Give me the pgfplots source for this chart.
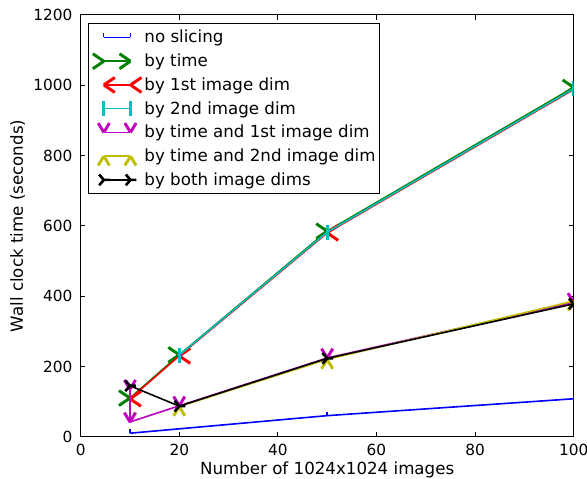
\documentclass[border=0pt]{standalone}
\usepackage{fontspec}
\setmainfont{DejaVu Sans}
\usepackage{pgfplots}
\pgfplotsset{compat=1.18}
\definecolor{mg}{rgb}{0,0.5,0}
\definecolor{mc}{rgb}{0,0.75,0.75}
\definecolor{mm}{rgb}{0.75,0,0.75}
\definecolor{my}{rgb}{0.75,0.75,0}
\pgfdeclareplotmark{chevR}{%
  \pgfpathmoveto{\pgfpointorigin}\pgfpathlineto{\pgfpoint{-8.25pt}{5.6pt}}%
  \pgfpathmoveto{\pgfpointorigin}\pgfpathlineto{\pgfpoint{-8.25pt}{-5.6pt}}%
  \pgfusepathqstroke}
\pgfdeclareplotmark{chevL}{%
  \pgfpathmoveto{\pgfpointorigin}\pgfpathlineto{\pgfpoint{8.25pt}{5.6pt}}%
  \pgfpathmoveto{\pgfpointorigin}\pgfpathlineto{\pgfpoint{8.25pt}{-5.6pt}}%
  \pgfusepathqstroke}
\pgfdeclareplotmark{vbar}{%
  \pgfpathmoveto{\pgfpoint{0pt}{-5.6pt}}\pgfpathlineto{\pgfpoint{0pt}{5.6pt}}%
  \pgfusepathqstroke}
\pgfdeclareplotmark{chevV}{%
  \pgfpathmoveto{\pgfpointorigin}\pgfpathlineto{\pgfpoint{-4.2pt}{7pt}}%
  \pgfpathmoveto{\pgfpointorigin}\pgfpathlineto{\pgfpoint{4.2pt}{7pt}}%
  \pgfusepathqstroke}
\pgfdeclareplotmark{chevA}{%
  \pgfpathmoveto{\pgfpointorigin}\pgfpathlineto{\pgfpoint{-4.2pt}{-7pt}}%
  \pgfpathmoveto{\pgfpointorigin}\pgfpathlineto{\pgfpoint{4.2pt}{-7pt}}%
  \pgfusepathqstroke}
\pgfdeclareplotmark{triR}{%
  \pgfpathmoveto{\pgfpointorigin}\pgfpathlineto{\pgfpoint{4.5pt}{0pt}}%
  \pgfpathmoveto{\pgfpointorigin}\pgfpathlineto{\pgfpoint{-3.5pt}{4pt}}%
  \pgfpathmoveto{\pgfpointorigin}\pgfpathlineto{\pgfpoint{-3.5pt}{-4pt}}%
  \pgfusepathqstroke}
\pgfdeclareplotmark{tickU}{%
  \pgfpathmoveto{\pgfpointorigin}\pgfpathlineto{\pgfpoint{0pt}{3pt}}%
  \pgfusepathqstroke}
\begin{document}
\begin{tikzpicture}
\useasboundingbox (-60.5pt,-31.7pt) rectangle (379.75pt,327.55pt);
\begin{axis}[
  at={(0,0)}, anchor=south west,
  width=369.75pt, height=316.3pt, scale only axis,
  xmin=0, xmax=100, ymin=0, ymax=1200,
  xtick={0,20,...,100}, ytick={0,200,...,1200},
  minor tick num=0,
  tick align=inside, major tick length=3.5pt,
  axis line style={line width=0.75pt},
  tick style={line width=0.75pt, black},
  /pgf/number format/assume math mode=true,
  /pgf/number format/1000 sep={},
  tick label style={font=\fontsize{11.5}{13}\selectfont},
  xticklabel style={inner ysep=5pt, inner xsep=0pt},
  yticklabel style={inner xsep=6pt, inner ysep=0pt},
  xlabel={Number of 1024x1024 images},
  ylabel={Wall clock time (seconds)},
  label style={font=\fontsize{12.5}{15}\selectfont},
  xlabel style={at={(axis description cs:0.5,-0.0892)}, anchor=base},
  ylabel style={at={(axis description cs:-0.1171,0.5)}, anchor=base},
  clip marker paths=true,
  legend cell align=left,
  legend style={at={(0,1)}, anchor=north west, xshift=5.5pt, yshift=-6pt,
    draw=black, line width=0.75pt, fill=white, inner sep=3pt,
    row sep=2.8pt, column sep=2pt,
    font=\fontsize{12.5}{15}\selectfont,
    nodes={inner sep=0pt}},
  legend image code/.code={\path[draw=none,fill=none] (-8.5pt,-7.5pt) rectangle (28.5pt,7.5pt);
    \draw[#1] plot coordinates {(0pt,0pt) (20pt,0pt)};},
]
\addplot[blue, line width=1.2pt, mark=tickU, mark options={line width=1pt}]
  coordinates {(10,10) (50,60) (100,108)};
\addlegendentry{no slicing}
\addplot[mg, line width=1.2pt, mark=chevR, mark options={line width=2.2pt}]
  coordinates {(10,110) (20,233) (50,585) (100,994)};
\addlegendentry{by time}
\addplot[red, line width=1.2pt, mark=chevL, mark options={line width=2.2pt}]
  coordinates {(10,108) (20,230) (50,580) (100,988)};
\addlegendentry{by 1st image dim}
\addplot[mc, line width=1.2pt, mark=vbar, mark options={line width=2.2pt}]
  coordinates {(20,232) (50,582) (100,990)};
\addlegendentry{by 2nd image dim}
\addplot[mm, line width=1.2pt, mark=chevV, mark options={line width=2.2pt}]
  coordinates {(10,135) (10,42) (20,88) (50,224) (100,382)};
\addlegendentry{by time and 1st image dim}
\addplot[my, line width=1.2pt, mark=chevA, mark options={line width=2.2pt}]
  coordinates {(20,86) (50,220) (100,386)};
\addlegendentry{by time and 2nd image dim}
\addplot[black, line width=1.2pt, mark=triR, mark options={line width=2pt}]
  coordinates {(10,145) (20,87) (50,223) (100,378)};
\addlegendentry{by both image dims}
\end{axis}
\end{tikzpicture}
\end{document}
